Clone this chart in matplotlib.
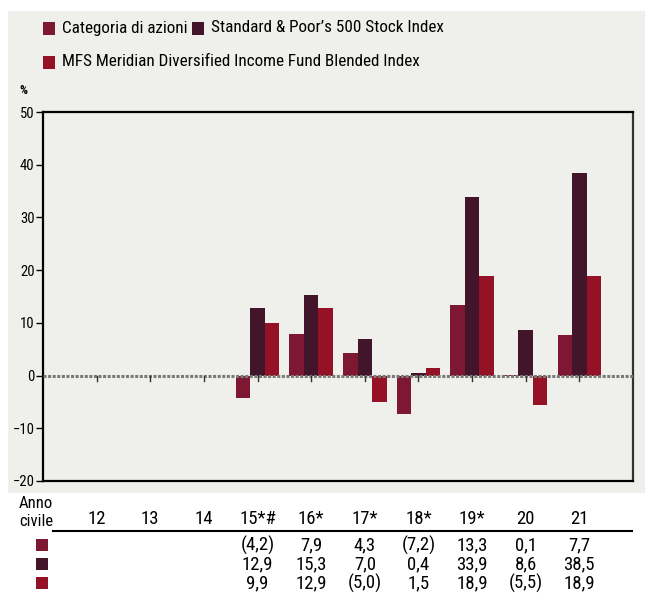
import matplotlib.pyplot as plt
from matplotlib.patches import Rectangle
import matplotlib.transforms as mtransforms

years = ["12", "13", "14", "15*#", "16*", "17*", "18*", "19*", "20", "21"]
categoria = [None, None, None, -4.2, 7.9, 4.3, -7.2, 13.3, 0.1, 7.7]
sp500 = [None, None, None, 12.9, 15.3, 7.0, 0.4, 33.9, 8.6, 38.5]
mfs = [None, None, None, 9.9, 12.9, -5.0, 1.5, 18.9, -5.5, 18.9]

names = ["Categoria di azioni", "Standard & Poor\u2019s 500 Stock Index",
         "MFS Meridian Diversified Income Fund Blended Index"]
colors = ["#7e1832", "#42152a", "#951226"]
series = [categoria, sp500, mfs]

W, H = 645, 593
bg = "#efefeb"


def fx(px):
    return px / W


def fy(py):
    return 1 - py / H


def fmt(v):
    if v is None:
        return ""
    s = f"{abs(v):.1f}".replace(".", ",")
    return f"({s})" if v < 0 else s


plt.rcParams['font.family'] = ['Roboto Condensed', 'Liberation Sans', 'DejaVu Sans']
fig = plt.figure(figsize=(W / 100, H / 100), dpi=100)
fig.patches.append(Rectangle((fx(8), fy(493)), 1 - fx(8), fy(11) - fy(493),
                             transform=fig.transFigure, facecolor=bg,
                             edgecolor="none", zorder=-10))

ax = fig.add_axes([fx(43), fy(481), fx(633) - fx(43), fy(112) - fy(481)])
ax.set_facecolor(bg)

xs = list(range(1, len(years) + 1))
w = 0.27
for k, (vals, c) in enumerate(zip(series, colors)):
    for x, v in zip(xs, vals):
        if v is None:
            continue
        ax.bar(x + (k - 1) * w, v, width=w, color=c, zorder=2)

ax.axhline(0, color="#7a7a7a", lw=2.2, ls=(0, (1, 0.5)), zorder=3)
for x in xs:
    ax.plot([x, x], [0, -1.0], color="#333333", lw=1, zorder=3)

ax.set_xlim(0, 11)
ax.set_ylim(-20, 50)
ax.set_yticks(range(-20, 51, 10))
ax.set_xticks([])
ax.tick_params(axis="y", direction="out", length=5, width=1, labelsize=10.5, pad=1)
for sp in ax.spines.values():
    sp.set_linewidth(1.6)
    sp.set_color("black")
ax.spines["right"].set_color("#333333")

fig.text(fx(19), fy(90), "%", fontsize=9, fontweight="bold", va="center")

# legend
leg_pos = [(43, 28), (192, 28), (43, 62)]
for (px, py), name, c in zip(leg_pos, names, colors):
    fig.patches.append(Rectangle((fx(px), fy(py + 7)), fx(12), 13 / H,
                                 transform=fig.transFigure, facecolor=c,
                                 edgecolor="none"))
    fig.text(fx(px + 19), fy(py), name, fontsize=12.3, va="center")

# table
trans = mtransforms.blended_transform_factory(ax.transData, fig.transFigure)
fig.text(fx(53), fy(503), "Anno", fontsize=12, ha="right", va="center")
fig.text(fx(53), fy(522), "civile", fontsize=12, ha="right", va="center")
for x, y in zip(xs, years):
    fig.text(x, fy(519), y, fontsize=13.5, ha="center", va="center", transform=trans)
fig.add_artist(plt.Line2D([fx(53), fx(632)], [fy(531), fy(531)],
                          transform=fig.transFigure, color="black", lw=1.5))
row_y = [545, 564, 583]
for ry, vals, c in zip(row_y, series, colors):
    fig.patches.append(Rectangle((fx(36), fy(ry + 6)), fx(12), 12 / H,
                                 transform=fig.transFigure, facecolor=c,
                                 edgecolor="none"))
    for x, v in zip(xs, vals):
        fig.text(x, fy(ry), fmt(v), fontsize=13.5, ha="center", va="center",
                 transform=trans)

fig.savefig("out.png", dpi=100)
